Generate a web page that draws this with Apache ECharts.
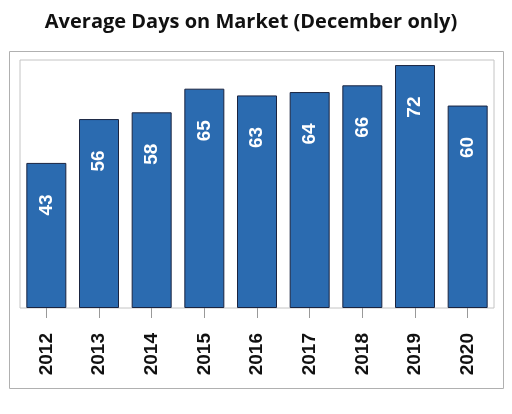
<!DOCTYPE html>
<html><head><meta charset="utf-8">
<script src="https://cdn.jsdelivr.net/npm/echarts@6/dist/echarts.min.js"></script>
<style>html,body{margin:0;padding:0;background:#fff}#c{width:512px;height:414px}</style>
</head><body><div id="c"></div>
<script>
const years = ['2012','2013','2014','2015','2016','2017','2018','2019','2020'];
const days = [43,56,58,65,63,64,66,72,60];
const title = 'Average Days on Market (December only)';

const chart = echarts.init(document.getElementById('c'), null, {renderer:'canvas'});
chart.setOption({
  animation:false,
  backgroundColor:'#fff',
  title:{text:title,left:246,top:7,textAlign:'center',
    textStyle:{fontFamily:'"Open Sans", Lato, sans-serif',fontWeight:'bold',fontSize:20,color:'#111'}},
  graphic:[{type:'rect',shape:{x:9.5,y:51.5,width:494,height:337},
    style:{fill:'none',stroke:'#b0b0b0',lineWidth:1},silent:true,z:-1}],
  grid:{left:20,right:18,top:60,bottom:106,show:true,borderColor:'#c4c4c4',borderWidth:1,backgroundColor:'#fff'},
  xAxis:{type:'category',data:years,
    axisLine:{show:false},
    axisTick:{show:true,alignWithLabel:true,length:10,lineStyle:{color:'#999'}},
    axisLabel:{rotate:90,margin:25,fontSize:19,fontWeight:'bold',color:'#111',
      fontFamily:'"Liberation Sans Narrow","Liberation Sans",Arial,sans-serif'}},
  yAxis:{type:'value',min:0,max:73.5,show:false,splitLine:{show:false}},
  series:[{type:'bar',data:days,barWidth:40,
    itemStyle:{color:'#2b6bb0',borderColor:'#1a2440',borderWidth:1},
    label:{show:true,position:['50%',42],rotate:90,align:'center',verticalAlign:'middle',
      fontSize:19,fontWeight:'bold',color:'#fff',
      fontFamily:'"Liberation Sans Narrow","Liberation Sans",Arial,sans-serif'}}]
});
</script></body></html>
